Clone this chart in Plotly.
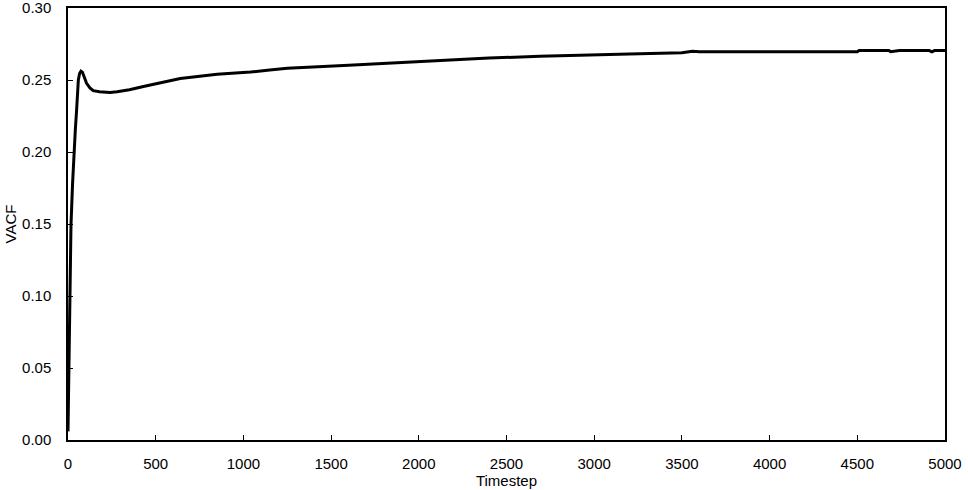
import plotly.graph_objects as go

timestep = [0, 3, 7, 11, 17, 26, 34, 42, 49, 55, 59, 66, 74, 82, 95, 106, 125, 144, 180, 240,
            280, 350, 430, 500, 640, 850, 1040, 1150, 1250, 1600, 1850, 2120, 2400, 2690, 3000,
            3200, 3500, 3560, 3600, 4000, 4500, 4510, 4680, 4690, 4740, 4910, 4925, 4940, 5000]
vacf = [0.006, 0.030, 0.051, 0.099, 0.149, 0.178, 0.201, 0.216, 0.229, 0.242, 0.250, 0.2545,
        0.2562, 0.2555, 0.2510, 0.2477, 0.2445, 0.2426, 0.2418, 0.2414, 0.2418, 0.2432, 0.2455,
        0.2475, 0.2510, 0.2540, 0.2555, 0.2570, 0.2582, 0.2602, 0.2618, 0.2634, 0.2652, 0.2665,
        0.2672, 0.2681, 0.2690, 0.2699, 0.2697, 0.2697, 0.2697, 0.2705, 0.2705, 0.2696, 0.2704,
        0.2704, 0.2696, 0.2704, 0.2704]

x_ticks = [0, 500, 1000, 1500, 2000, 2500, 3000, 3500, 4000, 4500, 5000]
y_ticks = [0.00, 0.05, 0.10, 0.15, 0.20, 0.25, 0.30]

fig = go.Figure()
fig.add_trace(go.Scatter(x=timestep, y=vacf, mode="lines",
                         line=dict(color="black", width=3), showlegend=False))

font = dict(family="Liberation Sans, Arial, sans-serif", size=15, color="black")
fig.update_layout(
    width=968, height=490,
    margin=dict(l=68, r=23, t=8, b=50, autoexpand=False),
    paper_bgcolor="white", plot_bgcolor="white",
    font=font,
)
fig.update_xaxes(
    range=[0, 5000], tickvals=x_ticks, ticktext=[str(v) for v in x_ticks],
    showgrid=False, zeroline=False, showline=True, linecolor="black", linewidth=1.5,
    mirror=True, ticks="inside", ticklen=5, tickcolor="black", tickwidth=1,
    ticklabelstandoff=9, automargin=False, ticklabeloverflow="allow",
    title=dict(text="Timestep", font=font, standoff=2),
)
fig.update_yaxes(
    range=[0, 0.30], tickvals=y_ticks, ticktext=[f"{v:.2f}" for v in y_ticks],
    showgrid=False, zeroline=False, showline=True, linecolor="black", linewidth=1.5,
    mirror=True, ticks="inside", ticklen=5, tickcolor="black", tickwidth=1,
    ticklabelstandoff=12, automargin=False, ticklabeloverflow="allow",
    title=dict(text="VACF", font=font, standoff=2),
)

fig.write_html("out.html", config={"displayModeBar": False},
               post_script="document.body.style.margin='0';")
